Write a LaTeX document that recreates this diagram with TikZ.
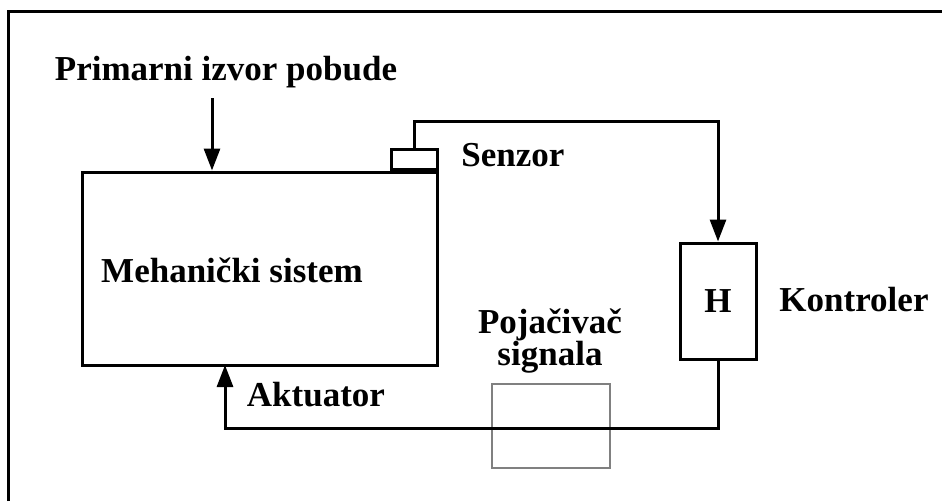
\documentclass[tikz,border=0pt]{standalone}
\usepackage{fontspec}
\setmainfont{Liberation Serif}
\usetikzlibrary{positioning,arrows.meta}

\begin{document}
\begin{tikzpicture}[x=1pt,y=-1pt,line width=3pt,
 box/.style={draw,inner sep=0pt},
 gbox/.style={draw=black!50,line width=2.5pt,inner sep=0pt},
 lbl/.style={font=\bfseries\fontsize{35}{32}\selectfont,inner sep=0pt,align=center},
 a/.style={-{Triangle[length=22pt,width=16pt]}}]
\useasboundingbox (0,0) rectangle (942,501);
\draw (8,501)--(8,11)--(942,11);
\node[box,minimum width=355pt,minimum height=193pt](mech) at (259.5,268.5){};
\node[lbl](mechlbl) at (232,270){Mehanički sistem};
\node[box,minimum width=46pt,minimum height=20pt,anchor=south east](senz) at (mech.north east){};
\node[lbl](senzlbl) at (513,155){Senzor};
\node[box,minimum width=76pt,minimum height=116pt](ctrl) at (718,301){};
\node[lbl](hlbl) at (ctrl.center){H};
\node[lbl](ctrllbl) at (854,300){Kontroler};
\node[gbox,minimum width=118pt,minimum height=84pt](amp) at (551,426){};
\node[lbl](amplbl) at (550,341){Pojačivač\\signala};
\node[lbl](exclbl) at (226,72){Primarni izvor pobude};
\node[lbl](actlbl) at (316,395){Aktuator};
\coordinate(exc) at (212,98);
\coordinate(act) at (225,365);
\draw[a](exc)--(exc|-mech.north);
\draw[a](senz.north)--++(0,-26)-|(ctrl.north);
\draw[a](ctrl.south)--++(0,68)-|(act);
\end{tikzpicture}
\end{document}
